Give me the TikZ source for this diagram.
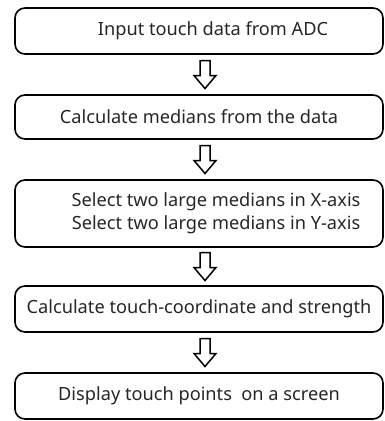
\documentclass[tikz,border=0pt]{standalone}
\usepackage{fontspec}
\setmainfont{Noto Sans}
\usetikzlibrary{positioning,calc}

% hollow down arrow between two boxes
\newcommand\flowarrow[2]{%
  \path ($(#1.south)!0.5!(#2.north)$) coordinate (m);
  \draw[hollow] ([xshift=6pt]m) ++(-5,14) -- ++(10,0) -- ++(0,-15) -- ++(6,0)
    -- ++(-11,-13) -- ++(-11,13) -- ++(6,0) -- cycle;}

\begin{document}
\begin{tikzpicture}[
x=1pt,y=1pt,
node distance=41pt,
box/.style={rectangle,rounded corners=10pt,draw,line width=1.6pt,outer sep=0pt,
minimum width=368pt,minimum height=46pt,align=center,
font=\fontsize{18.2}{23}\selectfont,text=black!85},
hollow/.style={line width=1.5pt,fill=white,line join=miter}
]
\useasboundingbox (0,0) rectangle (385,-421);
\node[box] (input) at (199,-31) {\hspace*{28pt}Input touch data from ADC};
\node[box,below=of input,minimum height=44pt] (median) {Calculate medians from the data};
\node[box,below=of median,minimum height=67pt] (select)
  {\hspace*{34pt}Select two large medians in X-axis\\\hspace*{34pt}Select two large medians in Y-axis};
\node[box,below=39pt of select] (coord) {Calculate touch-coordinate and strength};
\node[box,below=of coord] (display) {Display touch points~ on a screen};
\flowarrow{input}{median}
\flowarrow{median}{select}
\flowarrow{select}{coord}
\flowarrow{coord}{display}
\end{tikzpicture}
\end{document}
